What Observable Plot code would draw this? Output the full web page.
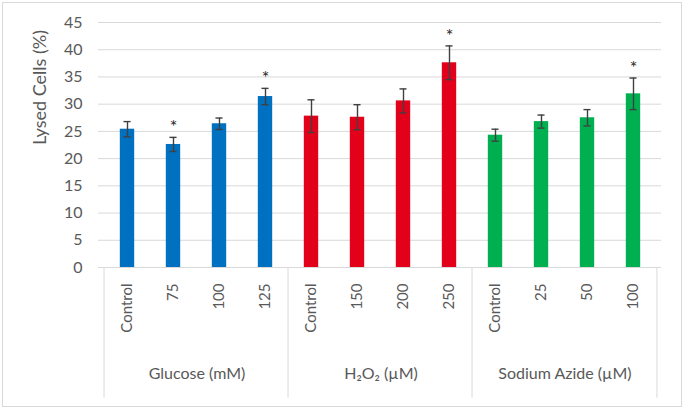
<!DOCTYPE html>
<html><head><meta charset="utf-8">
<script src="https://cdn.jsdelivr.net/npm/d3@7"></script>
<script src="https://cdn.jsdelivr.net/npm/@observablehq/plot@0.6"></script>
<style>
body{margin:0;background:#fff;}
#wrap{position:relative;width:685px;height:412px;overflow:hidden;}
#border{position:absolute;left:2px;top:2px;width:680px;height:405px;border:1px solid #d9d9d9;box-sizing:border-box;pointer-events:none}
</style></head><body><div id="wrap"><div id="border"></div></div>
<script>
const groups = ["Glucose (mM)", "H₂O₂ (µM)", "Sodium Azide (µM)"];
const groupColors = ["#0070C0", "#E2001A", "#00B050"];
const doseLabels = [["Control","75","100","125"],["Control","150","200","250"],["Control","25","50","100"]];
const lysedCells = [[25.4,22.6,26.4,31.4],[27.8,27.6,30.6,37.6],[24.3,26.8,27.5,31.9]];
const errorBars = [[1.4,1.3,1.05,1.5],[3.0,2.3,2.2,3.1],[1.1,1.2,1.5,2.9]];
const significant = [[false,true,false,true],[false,false,false,true],[false,false,false,true]];
const yTicks = [0,5,10,15,20,25,30,35,40,45];
const yTitle = "Lysed Cells (%)";

const rows = [];
groups.forEach((g, gi) => doseLabels[gi].forEach((lab, i) => rows.push({
  group: g, key: g + "|" + lab, label: lab, value: lysedCells[gi][i],
  err: errorBars[gi][i], sig: significant[gi][i], first: i === 0, last: i === doseLabels[gi].length - 1, second: i === 1
})));

const W = 685, H = 412, mL = 98, mR = 24, mT = 22, mB = 145;
const bw = (W - mL - mR) / rows.length;
const barInset = bw * 0.337;
const capInset = (bw - 8) / 2;
const textColor = "#595959";
const keyLabel = k => k.split("|")[1];

const chart = Plot.plot({
  width: W, height: H, marginLeft: mL, marginRight: mR, marginTop: mT, marginBottom: mB,
  style: {fontFamily: "Lato, sans-serif", fontSize: "15px", color: textColor, background: "transparent"},
  x: {domain: rows.map(d => d.key), padding: 0, tickFormat: keyLabel},
  y: {domain: [0, 45]},
  color: {domain: groups, range: groupColors},
  marks: [
    Plot.gridY(yTicks, {stroke: "#d9d9d9", strokeOpacity: 1}),
    Plot.ruleY([0], {stroke: "#d9d9d9"}),
    Plot.barY(rows, {x: "key", y: "value", fill: "group", insetLeft: barInset, insetRight: barInset}),
    Plot.ruleX(rows, {x: "key", y1: d => d.value - d.err, y2: d => d.value + d.err, stroke: "#404040", strokeWidth: 1.4}),
    Plot.tickY(rows, {x: "key", y: d => d.value + d.err, stroke: "#404040", strokeWidth: 1.4, insetLeft: capInset, insetRight: capInset}),
    Plot.tickY(rows, {x: "key", y: d => d.value - d.err, stroke: "#404040", strokeWidth: 1.4, insetLeft: capInset, insetRight: capInset}),
    Plot.text(rows.filter(d => d.sig), {x: "key", y: d => d.value + d.err, text: () => "*", dy: -10, fontSize: 18, fill: "#262626"}),
    Plot.axisX({tickSize: 0, tickPadding: 16, tickRotate: -90, tickFormat: keyLabel, label: null, fontSize: 15, fill: textColor}),
    Plot.axisY({ticks: yTicks, tickSize: 0, tickPadding: 16, label: null, fontSize: 16, fill: textColor}),
    Plot.ruleX(rows.filter(d => d.first), {x: "key", y1: 0, y2: -24, dx: -bw / 2, stroke: "#d9d9d9"}),
    Plot.ruleX(rows.filter(d => d.last && d.group === groups[groups.length - 1]), {x: "key", y1: 0, y2: -24, dx: bw / 2, stroke: "#d9d9d9"}),
    Plot.text(rows.filter(d => d.second), {x: "key", text: "group", frameAnchor: "bottom", dx: bw / 2, dy: 111, fontSize: 16, fill: textColor}),
    Plot.text([yTitle], {text: d => d, frameAnchor: "left", rotate: -90, dx: -58, fontSize: 18, fill: textColor})
  ]
});
document.getElementById("wrap").prepend(chart);
</script>
</body></html>
